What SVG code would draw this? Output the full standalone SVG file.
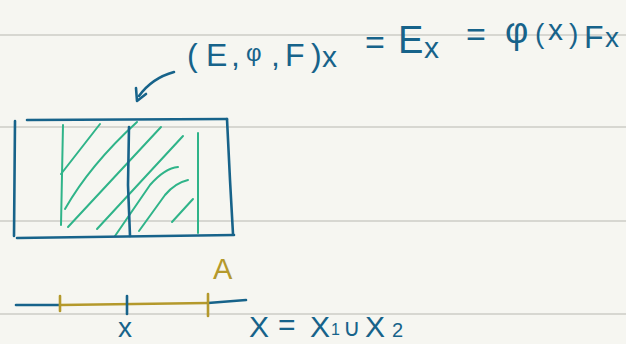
<svg xmlns="http://www.w3.org/2000/svg" width="626" height="344" viewBox="0 0 626 344">
<style>
.rule{stroke:#d7d7d1;stroke-width:2;fill:none}
.b{stroke:#17638a;stroke-width:2.6;fill:none;stroke-linecap:round;stroke-linejoin:round}
.g{stroke:#2fb489;stroke-width:2;fill:none;stroke-linecap:round}
.y{stroke:#b4992c;stroke-width:2.6;fill:none;stroke-linecap:round}
.t{font-family:"Liberation Sans",Arial,sans-serif;fill:#17638a}
.ty{font-family:"Liberation Sans",Arial,sans-serif;fill:#b4992c}
</style>
<rect width="626" height="344" fill="#f6f6f1"/>
<g id="rules">
<line class="rule" x1="0" y1="35" x2="626" y2="35"/>
<line class="rule" x1="0" y1="127" x2="626" y2="127"/>
<line class="rule" x1="0" y1="221" x2="626" y2="221"/>
<line class="rule" x1="0" y1="314" x2="626" y2="314"/>
</g>
<g id="formula" class="t">
<text font-size="32" y="66"><tspan x="187">(</tspan><tspan x="206">E</tspan><tspan x="231">,</tspan><tspan x="246" font-size="24" y="61">φ</tspan><tspan x="271" y="66">,</tspan><tspan x="285">F</tspan><tspan x="311">)</tspan></text>
<text font-size="30" x="322" y="67">x</text>
<text font-size="34" x="365" y="54">=</text>
<text font-size="38" x="398" y="53">E</text>
<text font-size="30" x="424" y="58">x</text>
<text font-size="34" x="466" y="46">=</text>
<text font-size="36" x="505" y="43">φ</text>
<text font-size="28" x="535" y="43">(</text>
<text font-size="30" x="548" y="40">x</text>
<text font-size="28" x="569" y="43">)</text>
<text font-size="32" x="584" y="48">F</text>
<text font-size="28" x="605" y="47">x</text>
</g>
<g id="arrow">
<path class="b" d="M174,72 Q152,78 139,96"/>
<path class="b" d="M136,88 L137,101 L146,94"/>
</g>
<g id="bundle">
<path class="g" d="M63,125 L61,225"/>
<path class="g" d="M100,124 L61,174"/>
<path class="g" d="M137,122 Q90,165 65,209"/>
<path class="g" d="M161,127 L68,227"/>
<path class="g" d="M183,136 L97,229"/>
<path class="g" d="M178,167 Q165,168 150,185 L115,236"/>
<path class="g" d="M188,180 Q175,183 165,195 L139,231"/>
<path class="g" d="M193,199 L172,222"/>
<path class="g" d="M198,133 L198,233"/>
<path class="b" d="M27,120 L227,119"/>
<path class="b" d="M15,121 L14,236"/>
<path class="b" d="M17,238 L234,235"/>
<path class="b" d="M227,119 L230,180 L233,234"/>
<path class="b" d="M129,127 L128,185 L130,236"/>
</g>
<g id="base">
<path class="b" d="M16,305 L60,305"/>
<path class="y" d="M60,305 L208,303"/>
<path class="b" d="M208,303 L246,300"/>
<path class="y" d="M60,296 L60,311"/>
<path class="b" d="M127,296 L127,314"/>
<path class="y" d="M208,294 L208,316"/>
<text class="ty" font-size="29" x="213" y="279">A</text>
<text class="t" font-size="28" x="118" y="337">x</text>
<text class="t" font-size="30" y="337"><tspan x="249">X</tspan><tspan x="278" y="335">=</tspan><tspan x="310" y="337">X</tspan><tspan x="331" font-size="16" y="335">1</tspan><tspan x="343" y="336" font-size="24">∪</tspan><tspan x="365" y="337">X</tspan><tspan x="392" font-size="20" y="337">2</tspan></text>
</g>
</svg>
